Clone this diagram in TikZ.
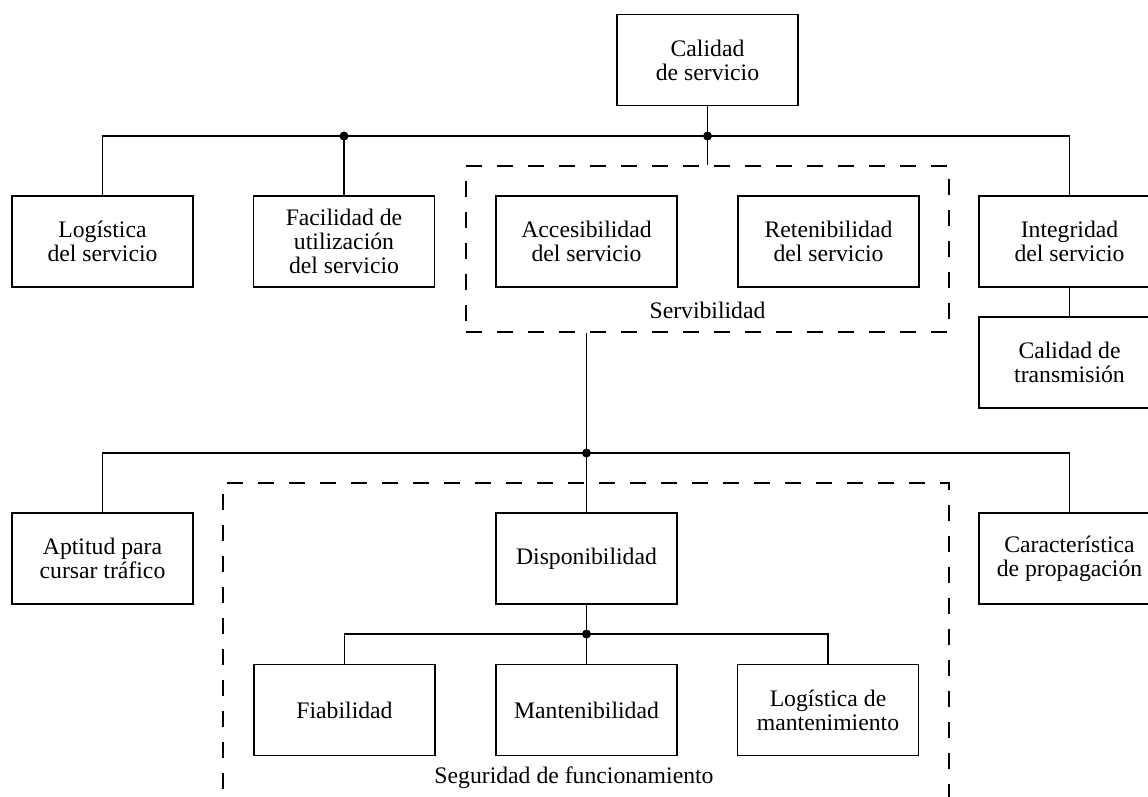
\documentclass[tikz,border=0pt]{standalone}
\usepackage{fontspec}
\setmainfont{Liberation Serif}
\begin{document}
\begin{tikzpicture}[x=1pt,y=-1pt,
  box/.style={draw, line width=1.1pt, minimum width=181pt, minimum height=91pt, inner sep=0pt, align=center, font=\fontsize{23.7pt}{24pt}\selectfont},
  dbox/.style={draw, line width=1.1pt, dash pattern=on 16pt off 15pt, inner sep=0pt},
  conn/.style={line width=1.1pt},
  jdot/.style={circle, fill=black, inner sep=0pt, minimum size=9pt},
  lbl/.style={inner sep=0pt, font=\fontsize{23.7pt}{24pt}\selectfont}]
\useasboundingbox (0,0) rectangle (1148,796);
\clip (0,0) rectangle (1148,796);

% boxes
\node[box] (top) at (707.5,60) {Calidad\\de servicio};
\node[box, line width=2.1pt] (log) at (102.5,241.5) {Logística\\del servicio};
\node[box] (fac) at (344,241.5) {Facilidad de\\utilización\\del servicio};
\node[box] (acc) at (586.5,241.5) {Accesibilidad\\del servicio};
\node[box] (ret) at (828.5,241.5) {Retenibilidad\\del servicio};
\node[box] (int) at (1069.5,241.5) {Integridad\\del servicio};
\node[box] (trans) at (1069.5,362.5) {Calidad de\\transmisión};
\node[box] (apt) at (102.5,558.5) {Aptitud para\\cursar tráfico};
\node[box] (disp) at (586.5,558.5) {Disponibilidad};
\node[box] (car) at (1069.5,558.5) {Característica\\de propagación};
\node[box] (fia) at (344.5,710) {Fiabilidad};
\node[box] (man) at (586.5,710) {Mantenibilidad};
\node[box] (lm) at (828,710) {Logística de\\mantenimiento};

% dashed groups
\node[dbox, minimum width=483pt, minimum height=166pt] (serv) at (707.5,249) {};
\node[lbl] (servl) at (707.5,310) {Servibilidad};
\coordinate (sBL) at (223,820);
\coordinate (sTL) at (223,483);
\coordinate (sTR) at (949,483);
\coordinate (sBR) at (949,820);
\draw[dbox] (sBL) -- (sTL) -- (sTR) -- (sBR);
\node[lbl] (segl) at (574,778) {Seguridad de funcionamiento};

% upper tree
\coordinate (j1) at (707.5,136);
\draw[conn] (top.south) -- (serv.north);
\draw[conn] (log.north) -- (log.north |- j1) -- (int.north |- j1) -- (int.north);
\draw[conn] (fac.north) -- (fac.north |- j1);
\node[jdot] (d1) at (j1) {};
\node[jdot] (d2) at (fac.north |- j1) {};
\draw[conn] (int.south) -- (trans.north);

% middle tree
\coordinate (j3) at (586.5,453);
\draw[conn] (acc.south |- serv.south) -- (disp.north);
\draw[conn] (apt.north) -- (apt.north |- j3) -- (car.north |- j3) -- (car.north);
\node[jdot] (d3) at (j3) {};

% lower tree
\coordinate (j4) at (586.5,634);
\draw[conn] (disp.south) -- (man.north);
\draw[conn] (fia.north) -- (fia.north |- j4) -- (lm.north |- j4) -- (lm.north);
\node[jdot] (d4) at (j4) {};
\end{tikzpicture}
\end{document}
